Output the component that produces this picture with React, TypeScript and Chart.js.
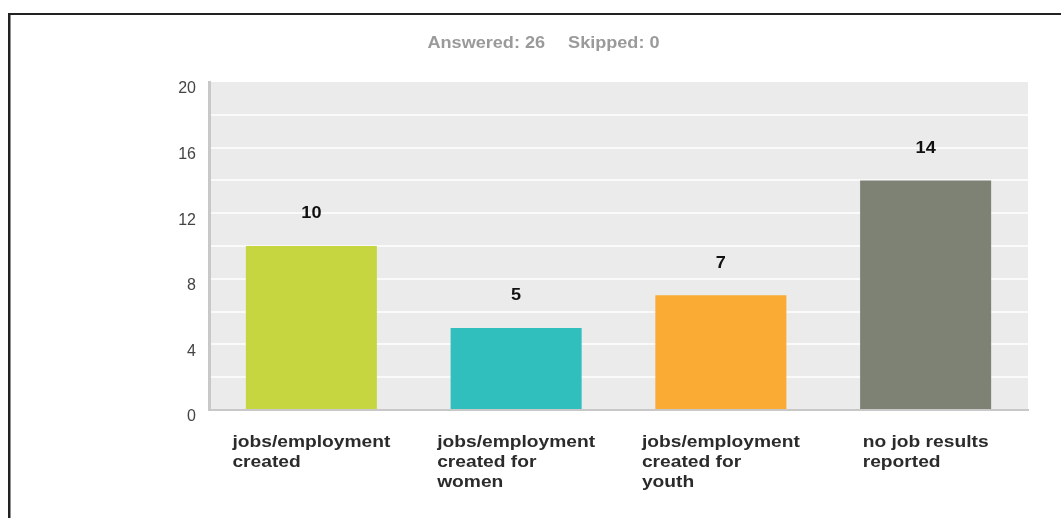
import React, { useEffect, useRef } from 'react';
import { Chart, registerables } from 'chart.js';

Chart.register(...registerables);

// ---- data ----
const categories: string[][] = [
  ['jobs/employment', 'created'],
  ['jobs/employment', 'created for', 'women'],
  ['jobs/employment', 'created for', 'youth'],
  ['no job results', 'reported'],
];
const values: number[] = [10, 5, 7, 14];
const barColors: string[] = ['#c6d641', '#30bfbd', '#f9ab33', '#7d8275'];
const yTickLabels: number[] = [0, 4, 8, 12, 16, 20];
const answeredCount = 26;
const skippedCount = 0;

const FONT = '"Liberation Sans", Arial, sans-serif';
const SX = 1.13; // horizontal stretch of text in the reference

function drawStretched(ctx: CanvasRenderingContext2D, text: string, x: number, y: number, align: CanvasTextAlign) {
  ctx.save();
  ctx.translate(x, y);
  ctx.scale(SX, 1);
  ctx.textAlign = align;
  ctx.fillText(text, 0, 0);
  ctx.restore();
}

const backgroundPlugin = {
  id: 'bgFrame',
  beforeDraw(chart: any) {
    const { ctx, chartArea, width, height } = chart;
    ctx.save();
    ctx.fillStyle = '#ffffff';
    ctx.fillRect(0, 0, width, height);
    // frame
    ctx.fillStyle = '#222222';
    ctx.fillRect(8, 13, width - 8, 2);
    ctx.fillRect(8, 13, 2.5, height - 13);
    // plot background
    ctx.fillStyle = '#ebebeb';
    ctx.fillRect(chartArea.left, chartArea.top, chartArea.right - chartArea.left, chartArea.bottom - chartArea.top);
    ctx.restore();
  },
};

const textPlugin = {
  id: 'texts',
  afterDraw(chart: any) {
    const { ctx, chartArea } = chart;
    const xScale = chart.scales.x;
    const yScale = chart.scales.y;
    ctx.save();
    ctx.textBaseline = 'middle';

    // header
    ctx.font = `bold 16px ${FONT}`;
    ctx.fillStyle = '#9a9a9a';
    const t1 = `Answered: ${answeredCount}`;
    const t2 = `Skipped: ${skippedCount}`;
    const w1 = ctx.measureText(t1).width * SX;
    const w2 = ctx.measureText(t2).width * SX;
    const gap = 23;
    const total = w1 + gap + w2;
    const start = 543.5 - total / 2;
    drawStretched(ctx, t1, start, 44, 'left');
    drawStretched(ctx, t2, start + w1 + gap, 44, 'left');

    // value labels
    ctx.font = `bold 16px ${FONT}`;
    ctx.fillStyle = '#111111';
    values.forEach((v, i) => {
      const cx = xScale.getPixelForValue(i);
      const y = yScale.getPixelForValue(v) - 32;
      drawStretched(ctx, String(v), cx, y, 'center');
    });

    // category labels (left-aligned block, centered under bar)
    ctx.font = `bold 17px ${FONT}`;
    ctx.fillStyle = '#2b2b2b';
    categories.forEach((lines, i) => {
      const cx = xScale.getPixelForValue(i);
      const maxW = Math.max(...lines.map((l) => ctx.measureText(l).width)) * SX;
      const left = cx - maxW / 2;
      lines.forEach((l, j) => {
        drawStretched(ctx, l, left, chartArea.bottom + 32 + j * 20, 'left');
      });
    });
    ctx.restore();
  },
};

export default function App() {
  const canvasRef = useRef<HTMLCanvasElement | null>(null);

  useEffect(() => {
    document.body.style.margin = '0';
    document.body.style.overflow = 'hidden';
    const canvas = canvasRef.current;
    if (!canvas) return;
    const chart = new Chart(canvas, {
      type: 'bar',
      data: {
        labels: categories.map((c) => c.join(' ')),
        datasets: [
          {
            data: values,
            backgroundColor: barColors,
            borderWidth: 0,
            barPercentage: 0.64,
            categoryPercentage: 1,
          },
        ],
      },
      options: {
        animation: false,
        responsive: false,
        maintainAspectRatio: false,
        devicePixelRatio: 1,
        layout: { padding: { left: 0, right: 33, top: 82, bottom: 0 } },
        plugins: {
          legend: { display: false },
          title: { display: false },
          tooltip: { enabled: false },
        },
        scales: {
          x: {
            grid: { display: false, drawTicks: false },
            border: { display: true, color: '#c8c8c8', width: 2 },
            ticks: { display: false },
            afterFit: (scale: any) => {
              scale.height = 108;
            },
          },
          y: {
            min: 0,
            max: 20,
            grid: {
              drawTicks: false,
              lineWidth: 2,
              color: (c: any) =>
                c.tick && (c.tick.value === 0 || c.tick.value === 20) ? 'rgba(0,0,0,0)' : '#fafafa',
            },
            border: { display: true, color: '#c8c8c8', width: 3 },
            ticks: {
              stepSize: 2,
              padding: 13,
              labelOffset: 7,
              color: '#444444',
              font: { family: FONT, size: 16 },
              callback: (v: any) => (yTickLabels.includes(Number(v)) ? String(v) : ''),
            },
            afterFit: (scale: any) => {
              scale.width = 209;
            },
          },
        },
      },
      plugins: [backgroundPlugin, textPlugin],
    });
    return () => chart.destroy();
  }, []);

  return (
    <div style={{ width: 1061, height: 518, position: 'relative' }}>
      <canvas ref={canvasRef} width={1061} height={518} style={{ display: 'block' }} />
    </div>
  );
}
